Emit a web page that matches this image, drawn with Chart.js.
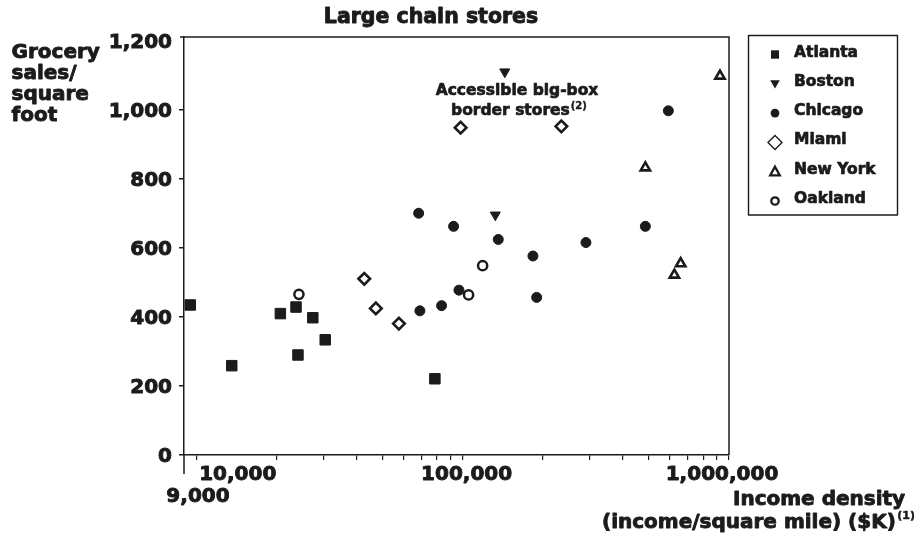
<!DOCTYPE html>
<html><head><meta charset="utf-8">
<script src="https://cdn.jsdelivr.net/npm/chart.js@4/dist/chart.umd.min.js"></script>
<style>html,body{margin:0;padding:0;background:#fff}canvas{display:block}</style>
</head><body>
<canvas id="c" width="914" height="535" style="width:914px;height:535px"></canvas>
<script>
// ---------- data ----------
const chartTitle = 'Large chain stores';
const yTitleLines = ['Grocery', 'sales/', 'square', 'foot'];
const xTitleLines = ['Income density', '(income/square mile) ($K)'];
const xTitleSup = '(1)';
const annotationLines = ['Accessible big-box', 'border stores'];
const annotationSup = '(2)';
const seriesNames = ['Atlanta', 'Boston', 'Chicago', 'Miami', 'New York', 'Oakland'];

const atlantaX = [9500, 13600, 20700, 23700, 24100, 27400, 30500, 78700];
const atlantaY = [435, 259, 410, 429, 290, 398, 334, 221];
const bostonX = [144000, 132700];
const bostonY = [1111, 696];
const chicagoX = [592000, 68400, 92500, 136100, 183700, 290400, 485300, 189700, 69150, 83400, 96900];
const chicagoY = [998, 701, 663, 625, 577, 616, 663, 457, 418, 433, 478];
const miamiX = [42750, 47250, 57670, 98300, 234800];
const miamiY = [511, 425, 381, 949, 953];
const newYorkX = [925000, 485300, 658500, 623700];
const newYorkY = [1099, 833, 555, 522];
const oaklandX = [24300, 105300, 118900];
const oaklandY = [466, 464, 549];

const yTickValues = [0, 200, 400, 600, 800, 1000, 1200];
const xTickValues = [10000, 20000, 30000, 40000, 50000, 60000, 70000, 80000, 90000,
  100000, 200000, 300000, 400000, 500000, 600000, 700000, 800000, 900000, 1000000];
const xLabelValues = [9000, 10000, 100000, 1000000];
const xLabelTexts = ['9,000', '10,000', '100,000', '1,000,000'];

// ---------- styles ----------
const INK = '#1b1b1b';
const FONT = '"DejaVu Sans", "Liberation Sans", sans-serif';
const f = (s) => 'bold ' + s + 'px ' + FONT;

function pts(xs, ys) { return xs.map((v, i) => ({ x: v, y: ys[i] })); }

const markerStyles = [
  { pointStyle: 'rect', pointRadius: 7.4, pointBackgroundColor: INK, pointBorderColor: INK, pointBorderWidth: 1 },
  { pointStyle: 'triangle', pointRotation: 180, pointRadius: 5.8, pointBackgroundColor: INK, pointBorderColor: INK, pointBorderWidth: 1 },
  { pointStyle: 'circle', pointRadius: 5.0, pointBackgroundColor: INK, pointBorderColor: INK, pointBorderWidth: 1 },
  { pointStyle: 'rectRot', pointRadius: 5.8, pointBackgroundColor: '#fff', pointBorderColor: INK, pointBorderWidth: 2.6 },
  { pointStyle: 'triangle', pointRadius: 5.4, pointBackgroundColor: '#fff', pointBorderColor: INK, pointBorderWidth: 2.6 },
  { pointStyle: 'circle', pointRadius: 4.6, pointBackgroundColor: '#fff', pointBorderColor: INK, pointBorderWidth: 2.5 }
];
const seriesData = [
  pts(atlantaX, atlantaY), pts(bostonX, bostonY), pts(chicagoX, chicagoY),
  pts(miamiX, miamiY), pts(newYorkX, newYorkY), pts(oaklandX, oaklandY)
];
const datasets = seriesNames.map((n, i) => Object.assign({
  label: n, data: seriesData[i], showLine: false, pointHoverRadius: markerStyles[i].pointRadius
}, markerStyles[i]));

// heavy text: fill plus a thin stroke in the same ink
function heavyText(ctx, t, x, y, sw) {
  ctx.lineWidth = sw; ctx.lineJoin = 'round';
  ctx.strokeText(t, x, y); ctx.fillText(t, x, y);
}

// legend marker drawing
function drawMarker(ctx, kind, x, y) {
  ctx.save();
  ctx.fillStyle = INK; ctx.strokeStyle = INK; ctx.lineJoin = 'miter';
  ctx.beginPath();
  if (kind === 0) { ctx.rect(x - 4, y - 4.2, 8, 8.4); ctx.fill(); }
  else if (kind === 1) { ctx.moveTo(x - 4.8, y - 3.6); ctx.lineTo(x + 4.8, y - 3.6); ctx.lineTo(x, y + 4.6); ctx.closePath(); ctx.fill(); }
  else if (kind === 2) { ctx.arc(x, y, 4.4, 0, Math.PI * 2); ctx.fill(); }
  else if (kind === 3) { ctx.lineWidth = 1.4; ctx.moveTo(x, y - 7); ctx.lineTo(x + 7, y); ctx.lineTo(x, y + 7); ctx.lineTo(x - 7, y); ctx.closePath(); ctx.stroke(); }
  else if (kind === 4) { ctx.lineWidth = 2.3; ctx.moveTo(x, y - 5); ctx.lineTo(x + 4.8, y + 3.7); ctx.lineTo(x - 4.8, y + 3.7); ctx.closePath(); ctx.stroke(); }
  else { ctx.lineWidth = 2.3; ctx.arc(x, y, 3.7, 0, Math.PI * 2); ctx.stroke(); }
  ctx.restore();
}

const decor = {
  id: 'decor',
  afterDraw(chart) {
    const { ctx, chartArea: a, scales: { x } } = chart;
    ctx.save();
    ctx.strokeStyle = INK; ctx.fillStyle = INK; ctx.lineWidth = 1.5;
    // top and right frame lines, left axis extension
    ctx.beginPath();
    ctx.moveTo(a.left - 4, a.top); ctx.lineTo(a.right, a.top); ctx.lineTo(a.right, a.bottom);
    ctx.moveTo(a.left, a.bottom); ctx.lineTo(a.left, a.bottom + 19);
    ctx.stroke();

    // title
    ctx.textBaseline = 'middle';
    ctx.font = f(20.5); ctx.textAlign = 'center';
    heavyText(ctx, chartTitle, 431, 18, 0.9);

    // y title
    ctx.font = f(20); ctx.textAlign = 'left'; ctx.textBaseline = 'alphabetic';
    yTitleLines.forEach((t, i) => heavyText(ctx, t, 11.5, 58.3 + i * 20.8, 0.9));

    // x tick labels
    ctx.font = f(20); ctx.textBaseline = 'middle';
    const lab = [
      { dx: 14, dy: 497, align: 'center' },
      { dx: 3, dy: 474.5, align: 'left' },
      { dx: 4, dy: 474.5, align: 'center' },
      { dx: -7, dy: 474.5, align: 'center' }
    ];
    xLabelValues.forEach((v, i) => {
      ctx.textAlign = lab[i].align;
      heavyText(ctx, xLabelTexts[i], x.getPixelForValue(v) + lab[i].dx, lab[i].dy, 0.9);
    });

    // x title
    ctx.textAlign = 'left';
    ctx.font = f(20);
    heavyText(ctx, xTitleLines[0], 733, 500, 0.9);
    heavyText(ctx, xTitleLines[1], 602, 523, 0.9);
    const w2 = ctx.measureText(xTitleLines[1]).width;
    ctx.font = f(11);
    heavyText(ctx, xTitleSup, 602 + w2 + 1.5, 516.5, 0.5);

    // annotation
    ctx.textAlign = 'center';
    ctx.font = f(15.5);
    heavyText(ctx, annotationLines[0], 517, 91, 0.7);
    const wa = ctx.measureText(annotationLines[1]).width;
    ctx.font = f(10);
    const ws = ctx.measureText(annotationSup).width;
    const sx = 519 - (wa + ws + 1) / 2;
    ctx.textAlign = 'left';
    ctx.font = f(15.5);
    heavyText(ctx, annotationLines[1], sx, 111, 0.7);
    ctx.font = f(10);
    heavyText(ctx, annotationSup, sx + wa + 1, 106.5, 0.4);

    // legend
    ctx.lineWidth = 1.4;
    ctx.strokeRect(748.5, 35.5, 149, 179.5);
    ctx.font = f(15.5); ctx.textAlign = 'left'; ctx.textBaseline = 'middle';
    seriesNames.forEach((n, i) => {
      const cy = 52.5 + i * 29.3;
      drawMarker(ctx, i, 775, cy + 2);
      heavyText(ctx, n, 794, cy, 0.7);
    });
    ctx.restore();
  }
};

new Chart(document.getElementById('c'), {
  type: 'scatter',
  data: { datasets },
  options: {
    responsive: false,
    devicePixelRatio: 1,
    animation: false,
    events: [],
    layout: { padding: { left: 0, right: 185, top: 37, bottom: 0 } },
    plugins: { legend: { display: false }, tooltip: { enabled: false }, title: { display: false } },
    scales: {
      x: {
        type: 'logarithmic', min: 9000, max: 1000000,
        afterBuildTicks: (s) => { s.ticks = xTickValues.map(v => ({ value: v })); },
        afterFit: (s) => { s.height = 80; },
        ticks: { display: false },
        grid: { drawOnChartArea: false, drawTicks: true, tickLength: 5, color: INK, lineWidth: 1.2 },
        border: { display: true, color: INK, width: 1.5 }
      },
      y: {
        type: 'linear', min: 0, max: 1212,
        afterBuildTicks: (s) => { s.ticks = yTickValues.map(v => ({ value: v })); },
        afterFit: (s) => { s.width = 184; },
        ticks: {
          display: true, color: INK, padding: 7, labelOffset: 2,
          textStrokeColor: INK, textStrokeWidth: 0.9,
          font: { family: FONT, size: 20, weight: 'bold' },
          callback: (v) => Number(v).toLocaleString('en-US')
        },
        grid: {
          drawOnChartArea: false, drawTicks: true, tickLength: 5, lineWidth: 1.5,
          tickColor: (c) => (c.tick && c.tick.value === 1200) ? 'rgba(0,0,0,0)' : INK
        },
        border: { display: true, color: INK, width: 1.5 }
      }
    }
  },
  plugins: [decor]
});
</script>
</body></html>
